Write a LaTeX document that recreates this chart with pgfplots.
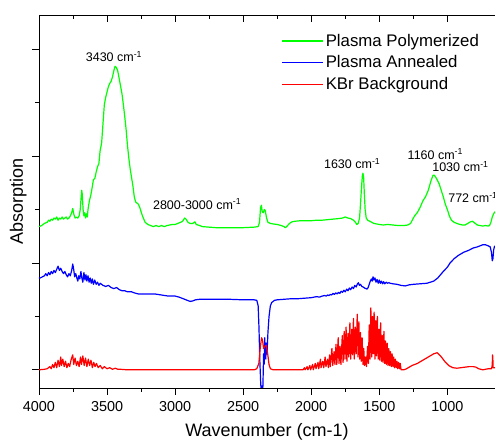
\documentclass[border=0pt]{standalone}
\usepackage{fontspec}
\setmainfont{Liberation Sans}
\usepackage{pgfplots}
\pgfplotsset{compat=1.18}
\definecolor{pgreen}{RGB}{0,255,0}
\definecolor{pblue}{RGB}{0,0,255}
\definecolor{pred}{RGB}{255,0,0}
\pgfplotsset{myleg/.style={legend image code/.code={\draw[##1,line width=1.2pt] (0pt,0pt) -- (41pt,0pt);}}}
\begin{document}
\begin{tikzpicture}
\useasboundingbox (-39pt,-55pt) rectangle (457pt,388pt);
\begin{axis}[
  at={(0,0)}, anchor=south west,
  scale only axis, width=456pt, height=373pt,
  x dir=reverse, xmin=650, xmax=4000,
  ymin=-0.17, ymax=3.32,
  axis x line*=bottom, axis y line*=left,
  axis line style={-, line width=0.9pt, black},
  xtick={1000,1500,...,4000}, minor x tick num=1,
  ytick={0,1,2,3}, minor y tick num=1,
  yticklabels={},
  tick align=outside,
  major tick length=7pt, minor tick length=4pt,
  tick style={black, line width=0.8pt},
  /pgf/number format/assume math mode=true,
  /pgf/number format/1000 sep={},
  ticklabel style={font=\fontsize{14.4}{17}\selectfont},
  xticklabel style={yshift=-3pt},
  xlabel={Wavenumber (cm-1)}, ylabel={Absorption},
  xlabel shift=5pt, ylabel shift=-5pt,
  label style={font=\fontsize{18}{21}\selectfont},
  legend style={at={(rel axis cs:0.525,0.96)}, anchor=north west, draw=none, fill=none,
    font=\fontsize{16.8}{20}\selectfont, row sep=4pt},
  legend cell align=left,
  every axis plot/.append style={line width=1.2pt, line join=round},
]
\addplot[pgreen, myleg] coordinates {
(4000,1.34)(3980,1.35)(3960,1.37)(3940,1.38)(3930,1.40)(3920,1.39)(3910,1.41)(3900,1.40)(3890,1.42)(3880,1.41)(3870,1.43)(3860,1.40)(3850,1.42)(3840,1.41)(3830,1.43)(3820,1.41)(3810,1.42)(3800,1.43)(3790,1.41)(3780,1.42)(3770,1.44)(3760,1.47)(3752,1.51)(3745,1.46)(3735,1.42)(3725,1.43)(3715,1.42)(3705,1.44)(3697,1.50)(3690,1.62)(3686,1.68)(3682,1.64)(3676,1.50)(3670,1.44)(3664,1.47)(3658,1.42)(3652,1.46)(3645,1.43)(3640,1.50)(3630,1.58)(3620,1.63)(3610,1.70)(3600,1.78)(3590,1.79)(3580,1.85)(3570,1.90)(3560,1.93)(3551,2.05)(3540,2.12)(3530,2.30)(3520,2.48)(3510,2.55)(3500,2.60)(3490,2.65)(3480,2.68)(3470,2.70)(3460,2.74)(3450,2.80)(3441,2.84)(3432,2.83)(3422,2.80)(3410,2.72)(3400,2.65)(3390,2.58)(3380,2.48)(3370,2.37)(3360,2.25)(3350,2.10)(3340,1.98)(3330,1.88)(3320,1.80)(3310,1.72)(3300,1.62)(3290,1.57)(3280,1.56)(3270,1.55)(3260,1.52)(3250,1.48)(3240,1.44)(3230,1.41)(3220,1.38)(3210,1.37)(3200,1.36)(3180,1.35)(3160,1.34)(3140,1.35)(3120,1.34)(3100,1.35)(3080,1.34)(3060,1.35)(3040,1.355)(3020,1.36)(3000,1.36)(2980,1.37)(2960,1.38)(2945,1.39)(2930,1.42)(2920,1.41)(2905,1.38)(2890,1.37)(2870,1.37)(2855,1.385)(2845,1.36)(2820,1.35)(2800,1.34)(2750,1.335)(2700,1.33)(2600,1.33)(2500,1.33)(2420,1.335)(2390,1.34)(2380,1.38)(2372,1.52)(2366,1.54)(2360,1.48)(2352,1.47)(2345,1.50)(2338,1.49)(2328,1.42)(2318,1.38)(2300,1.37)(2280,1.365)(2250,1.36)(2220,1.35)(2200,1.34)(2190,1.33)(2180,1.34)(2160,1.37)(2140,1.385)(2120,1.39)(2080,1.395)(2040,1.395)(2000,1.395)(1960,1.40)(1920,1.40)(1880,1.405)(1840,1.41)(1800,1.415)(1770,1.42)(1750,1.43)(1730,1.42)(1710,1.415)(1690,1.40)(1675,1.38)(1665,1.36)(1655,1.37)(1645,1.42)(1638,1.55)(1630,1.72)(1624,1.82)(1620,1.84)(1615,1.80)(1610,1.65)(1604,1.50)(1596,1.42)(1585,1.40)(1570,1.39)(1555,1.38)(1540,1.37)(1520,1.365)(1500,1.36)(1470,1.355)(1440,1.36)(1400,1.355)(1360,1.35)(1320,1.35)(1290,1.355)(1270,1.37)(1250,1.42)(1235,1.45)(1221,1.47)(1200,1.52)(1180,1.58)(1160,1.62)(1140,1.68)(1120,1.77)(1105,1.82)(1095,1.82)(1080,1.79)(1060,1.74)(1045,1.68)(1030,1.62)(1015,1.55)(1000,1.50)(985,1.44)(970,1.40)(950,1.38)(920,1.365)(890,1.355)(870,1.355)(850,1.37)(830,1.385)(815,1.39)(800,1.375)(780,1.355)(760,1.35)(740,1.345)(720,1.35)(700,1.345)(690,1.35)(680,1.38)(670,1.43)(660,1.46)(650,1.48)
};
\addlegendentry{Plasma Polymerized}
\addplot[pblue, myleg] coordinates {
(4000,0.86)(3990,0.86)(3975,0.87)(3960,0.88)(3950,0.90)(3940,0.88)(3930,0.91)(3920,0.89)(3910,0.92)(3900,0.90)(3890,0.93)(3880,0.91)(3870,0.94)(3860,0.97)(3850,0.93)(3840,0.95)(3830,0.92)(3820,0.90)(3810,0.92)(3800,0.89)(3790,0.87)(3780,0.90)(3770,0.88)(3760,0.93)(3752,0.99)(3745,0.94)(3738,0.87)(3730,0.90)(3722,0.86)(3715,0.83)(3708,0.88)(3700,0.85)(3692,0.92)(3685,0.86)(3678,0.82)(3670,0.91)(3662,0.84)(3655,0.89)(3648,0.83)(3640,0.88)(3632,0.82)(3624,0.86)(3616,0.81)(3608,0.85)(3600,0.80)(3590,0.84)(3580,0.80)(3570,0.82)(3560,0.79)(3550,0.81)(3530,0.79)(3510,0.78)(3490,0.79)(3470,0.77)(3450,0.76)(3430,0.77)(3410,0.75)(3390,0.74)(3370,0.74)(3350,0.73)(3320,0.73)(3300,0.72)(3270,0.71)(3250,0.71)(3200,0.71)(3150,0.71)(3100,0.70)(3050,0.69)(3000,0.69)(2970,0.68)(2950,0.67)(2930,0.66)(2910,0.65)(2890,0.64)(2870,0.645)(2850,0.655)(2820,0.66)(2780,0.66)(2700,0.66)(2600,0.66)(2500,0.655)(2420,0.655)(2400,0.65)(2390,0.60)(2384,0.40)(2378,0.10)(2372,-0.10)(2366,-0.25)(2362,-0.15)(2358,-0.30)(2354,-0.10)(2350,0.15)(2346,0.05)(2342,0.30)(2338,0.20)(2334,0.10)(2330,0.25)(2325,0.15)(2318,0.35)(2310,0.50)(2300,0.60)(2290,0.63)(2270,0.65)(2250,0.655)(2200,0.66)(2150,0.665)(2100,0.665)(2050,0.67)(2000,0.675)(1980,0.68)(1960,0.685)(1940,0.68)(1920,0.69)(1900,0.695)(1890,0.69)(1880,0.70)(1870,0.695)(1860,0.705)(1850,0.70)(1840,0.715)(1830,0.705)(1820,0.72)(1810,0.71)(1800,0.725)(1790,0.715)(1780,0.735)(1770,0.725)(1760,0.745)(1750,0.73)(1740,0.755)(1730,0.74)(1720,0.765)(1710,0.75)(1700,0.775)(1690,0.76)(1680,0.79)(1670,0.775)(1662,0.80)(1654,0.815)(1646,0.79)(1638,0.80)(1628,0.78)(1618,0.775)(1608,0.765)(1598,0.76)(1590,0.755)(1582,0.77)(1574,0.80)(1566,0.83)(1558,0.85)(1552,0.83)(1546,0.87)(1540,0.84)(1532,0.86)(1524,0.82)(1516,0.845)(1508,0.81)(1500,0.84)(1492,0.81)(1484,0.83)(1476,0.805)(1468,0.825)(1460,0.805)(1450,0.82)(1440,0.81)(1430,0.815)(1420,0.81)(1400,0.805)(1370,0.80)(1340,0.79)(1310,0.785)(1280,0.795)(1250,0.80)(1200,0.805)(1150,0.81)(1100,0.83)(1070,0.86)(1050,0.89)(1030,0.92)(1000,0.96)(980,1.00)(950,1.04)(920,1.07)(880,1.10)(840,1.12)(810,1.14)(780,1.15)(760,1.16)(740,1.17)(720,1.17)(700,1.16)(685,1.15)(676,1.10)(670,1.02)(665,1.04)(660,1.12)(655,1.15)(650,1.16)
};
\addlegendentry{Plasma Annealed}
\addplot[pred, myleg] coordinates {
(4000,0)(3960,0.005)(3940,0.01)(3920,0.03)(3910,0.01)(3900,0.05)(3890,0.02)(3880,0.07)(3870,0.02)(3860,0.09)(3850,0.03)(3840,0.12)(3835,0.04)(3825,0.10)(3815,0.03)(3805,0.08)(3795,0.02)(3785,0.06)(3775,0.03)(3765,0.09)(3752,0.14)(3745,0.05)(3735,0.11)(3725,0.04)(3715,0.08)(3705,0.03)(3695,0.12)(3688,0.05)(3678,0.13)(3668,0.04)(3658,0.11)(3648,0.03)(3638,0.10)(3628,0.04)(3618,0.09)(3608,0.02)(3598,0.07)(3588,0.03)(3578,0.06)(3565,0.02)(3550,0.04)(3535,0.01)(3520,0.03)(3500,0.01)(3480,0.02)(3460,0.005)(3440,0.015)(3420,0.005)(3400,0.005)(3350,0)(3000,0)(2500,0)(2420,0)(2400,0.01)(2385,0.06)(2375,0.20)(2365,0.30)(2358,0.28)(2350,0.20)(2340,0.22)(2330,0.23)(2320,0.15)(2310,0.05)(2300,0.01)(2280,0)(2100,0)(2060,0)(2050,0.02)(2045,0)(2030,0.03)(2025,0)(2010,0.04)(2005,0)(1990,0.05)(1985,0)(1970,0.06)(1965,0.01)(1950,0.07)(1945,0.01)(1932,0.10)(1928,0.02)(1915,0.08)(1908,0.02)(1898,0.12)(1892,0.03)(1880,0.10)(1874,0.02)(1865,0.14)(1860,0.03)(1848,0.20)(1842,0.04)(1832,0.17)(1826,0.05)(1818,0.24)(1812,0.05)(1802,0.30)(1796,0.06)(1788,0.22)(1782,0.05)(1772,0.32)(1766,0.07)(1758,0.36)(1752,0.10)(1744,0.40)(1738,0.08)(1730,0.34)(1724,0.12)(1716,0.44)(1710,0.10)(1702,0.38)(1696,0.14)(1690,0.48)(1684,0.10)(1676,0.40)(1670,0.15)(1662,0.52)(1656,0.12)(1650,0.45)(1644,0.10)(1638,0.35)(1632,0.08)(1626,0.30)(1620,0.05)(1614,0.20)(1608,0.04)(1600,0.12)(1594,0.03)(1586,0.22)(1580,0.06)(1574,0.42)(1568,0.10)(1562,0.58)(1556,0.12)(1550,0.50)(1544,0.15)(1538,0.54)(1532,0.10)(1526,0.46)(1520,0.13)(1514,0.50)(1508,0.10)(1502,0.38)(1496,0.09)(1490,0.44)(1484,0.08)(1478,0.32)(1472,0.07)(1466,0.36)(1460,0.06)(1454,0.27)(1448,0.05)(1442,0.25)(1436,0.04)(1430,0.20)(1424,0.04)(1418,0.17)(1412,0.03)(1406,0.15)(1400,0.03)(1394,0.12)(1388,0.02)(1382,0.10)(1376,0.02)(1370,0.08)(1364,0.01)(1358,0.07)(1352,0.01)(1346,0.06)(1340,0)(1320,0)(1300,0.01)(1260,0.04)(1220,0.06)(1180,0.09)(1140,0.12)(1100,0.15)(1075,0.16)(1050,0.13)(1020,0.08)(990,0.04)(960,0.02)(930,0.015)(900,0.02)(870,0.025)(840,0.03)(810,0.03)(790,0.025)(770,0.01)(740,0)(700,0.01)(675,0.01)(670,0.05)(668,0.14)(666,0.12)(664,0.02)(650,0.02)
};
\addlegendentry{KBr Background}
\node[font=\fontsize{12.5}{15}\selectfont] at (axis cs:3449,2.93) {3430 cm\textsuperscript{-1}};
\node[font=\fontsize{12.5}{15}\selectfont] at (axis cs:2838,1.55) {2800-3000 cm\textsuperscript{-1}};
\node[font=\fontsize{12.5}{15}\selectfont] at (axis cs:1699,1.93) {1630 cm\textsuperscript{-1}};
\node[font=\fontsize{12.5}{15}\selectfont] at (axis cs:1088,2.02) {1160 cm\textsuperscript{-1}};
\node[font=\fontsize{12.5}{15}\selectfont] at (axis cs:904,1.90) {1030 cm\textsuperscript{-1}};
\node[font=\fontsize{12.5}{15}\selectfont] at (axis cs:812,1.61) {772 cm\textsuperscript{-1}};
\end{axis}
\begin{axis}[
  at={(0,0)}, anchor=south west,
  scale only axis, width=456pt, height=373pt,
  x dir=reverse, xmin=650, xmax=4000,
  ymin=-0.17, ymax=3.32,
  axis x line*=top, axis y line=none,
  axis line style={-, line width=0.9pt, black},
  xtick={1000,1500,...,4000}, minor x tick num=1,
  xticklabels={},
  tick align=inside,
  major tick length=7pt, minor tick length=4pt,
  tick style={black, line width=0.8pt},
]
\end{axis}
\end{tikzpicture}
\end{document}
